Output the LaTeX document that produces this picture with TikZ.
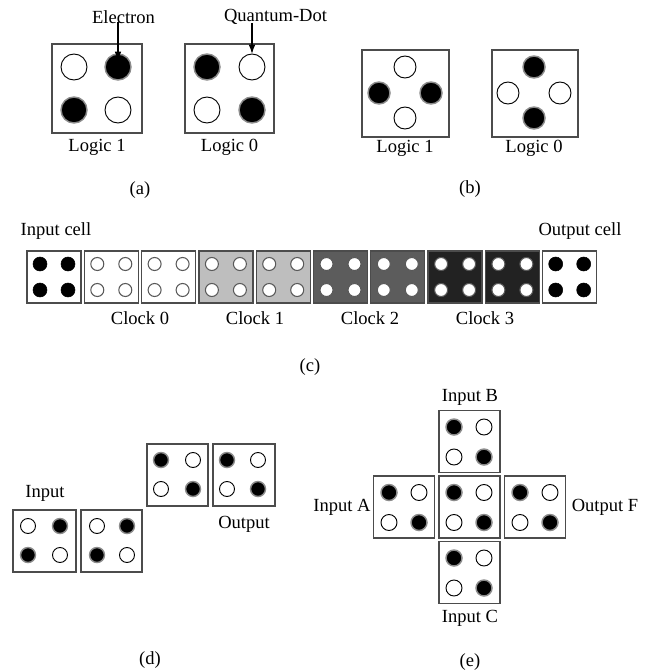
\documentclass[tikz,border=0pt]{standalone}
\usepackage{fontspec}
\setmainfont{Liberation Serif}
\usetikzlibrary{arrows.meta}
\tikzset{
  cellbox/.style={draw=black!70, line width=1pt, inner sep=0},
  Bd/.style={circle, inner sep=0, minimum size=\dd, fill=black, draw=black!45, line width=1.1pt},
  Wd/.style={circle, inner sep=0, minimum size=\dd, fill=white, draw=black, line width=0.7pt},
  Bc/.style={circle, inner sep=0, minimum size=10.5pt, fill=black, draw=black, line width=0.4pt},
  Wc/.style={circle, inner sep=0, minimum size=9.75pt, fill=white, draw=black!65, line width=0.8pt},
  lbl/.style={inner sep=0, font=\fontsize{13.9}{16}\selectfont},
  ptr/.style={line width=0.9pt, -{Latex[length=7pt,width=5pt]}}
}
\newcommand\qbox[6]{\node[cellbox, fill=#6, minimum width=#4*0.75pt, minimum height=#5*0.75pt] (#1) at (#2,#3) {};}
\newcommand\qdots[9]{%
  \node[#6] (#1tl) at (#2-#4,#3-#5) {};
  \node[#7] (#1tr) at (#2+#4,#3-#5) {};
  \node[#8] (#1bl) at (#2-#4,#3+#5) {};
  \node[#9] (#1br) at (#2+#4,#3+#5) {};}
\begin{document}
\begin{tikzpicture}[x=0.75pt, y=-0.75pt]
\useasboundingbox (0,0) rectangle (649,671);
\fill[white] (0,0) rectangle (649,671);
% ---------- (a)
\def\dd{19.5pt}
\qbox{a1}{97}{88.5}{90}{89}{white}
\qdots{a1}{96}{88.5}{22}{21.5}{Wd}{Bd}{Bd}{Wd}
\qbox{a2}{229.5}{88.5}{89}{89}{white}
\qdots{a2}{229.5}{88.5}{22.5}{21.5}{Bd}{Wd}{Wd}{Bd}
\node[lbl] (lblE) at (123.5,17) {Electron};
\node[lbl] (lblQ) at (275.5,17) {Quantum-Dot};
\coordinate (eTip) at (118,61);
\coordinate (qTip) at (252,54);
\draw[ptr] (lblE.south -| eTip) ++(0,-2) -- (eTip);
\draw[ptr] (lblQ.south -| qTip) ++(0,-2) -- (qTip);
\node[lbl] (la1) at (97,147) {Logic 1};
\node[lbl] (la0) at (229.5,147) {Logic 0};
\node[lbl] (capa) at (140,190) {(a)};
% ---------- (b)
\def\dd{16.5pt}
\qbox{b1}{405.5}{93.5}{87}{87}{white}
\node[Wd] (b1t) at (405,67) {};
\node[Bd] (b1l) at (379,93) {};
\node[Bd] (b1r) at (431,93) {};
\node[Wd] (b1b) at (405,118) {};
\qbox{b2}{535}{93.5}{86}{87}{white}
\node[Bd] (b2t) at (534,67) {};
\node[Wd] (b2l) at (508,93) {};
\node[Wd] (b2r) at (560,93) {};
\node[Bd] (b2b) at (534,118) {};
\node[lbl] (lb1) at (405,148) {Logic 1};
\node[lbl] (lb0) at (534,148) {Logic 0};
\node[lbl] (capb) at (470,189) {(b)};
% ---------- (c)
\definecolor{clkA}{RGB}{190,190,190}
\definecolor{clkB}{RGB}{92,92,92}
\definecolor{clkC}{RGB}{34,34,34}
\foreach \i/\f/\s in {0/white/Bc,1/white/Wc,2/white/Wc,3/clkA/Wc,4/clkA/Wc,5/clkB/Wc,6/clkB/Wc,7/clkC/Wc,8/clkC/Wc,9/white/Bc}{
  \pgfmathsetmacro\cx{54+57.3*\i}
  \qbox{c\i}{\cx}{277}{54}{52}{\f}
  \qdots{c\i}{\cx}{277}{14}{13}{\s}{\s}{\s}{\s}
}
\node[lbl] (lin) at (56,231) {Input cell};
\node[lbl] (lout) at (580,231) {Output cell};
\node[lbl] (k0) at (140,318) {Clock 0};
\node[lbl] (k1) at (255,318) {Clock 1};
\node[lbl] (k2) at (370,318) {Clock 2};
\node[lbl] (k3) at (485,318) {Clock 3};
\node[lbl] (capc) at (310,367) {(c)};
% ---------- (d)
\def\dd{11.25pt}
\qbox{d1}{177.5}{475}{61}{62}{white}
\qdots{d1}{177}{474.5}{16}{14.5}{Bd}{Wd}{Wd}{Bd}
\qbox{d2}{244}{475}{62}{62}{white}
\qdots{d2}{242.5}{474.5}{15.5}{14.5}{Bd}{Wd}{Wd}{Bd}
\qbox{d3}{44.5}{541}{63}{62}{white}
\qdots{d3}{44}{540.5}{16}{14.5}{Wd}{Bd}{Bd}{Wd}
\qbox{d4}{111.5}{541}{61}{62}{white}
\qdots{d4}{112}{540.5}{15}{14.5}{Wd}{Bd}{Bd}{Wd}
\node[lbl] (ldin) at (45,493) {Input};
\node[lbl] (ldout) at (244,524) {Output};
\node[lbl] (capd) at (150,660) {(d)};
% ---------- (e)
\def\dd{12pt}
\qbox{eB}{469.5}{441.5}{61}{62}{white}
\qdots{eB}{469}{442}{15}{15}{Bd}{Wd}{Wd}{Bd}
\qbox{eA}{404}{507}{61}{62}{white}
\qdots{eA}{404}{507.5}{15}{15}{Bd}{Wd}{Wd}{Bd}
\qbox{eM}{469.5}{507}{61}{62}{white}
\qdots{eM}{469}{507.5}{15}{15}{Bd}{Wd}{Wd}{Bd}
\qbox{eF}{535}{507}{61}{62}{white}
\qdots{eF}{535}{507.5}{15}{15}{Bd}{Wd}{Wd}{Bd}
\qbox{eC}{469.5}{572.5}{61}{62}{white}
\qdots{eC}{469}{573}{15}{15}{Bd}{Wd}{Wd}{Bd}
\node[lbl] (leB) at (470,397) {Input B};
\node[lbl] (leA) at (342,507) {Input A};
\node[lbl] (leF) at (605,507) {Output F};
\node[lbl] (leC) at (470,618) {Input C};
\node[lbl] (cape) at (470,662) {(e)};
\end{tikzpicture}
\end{document}
